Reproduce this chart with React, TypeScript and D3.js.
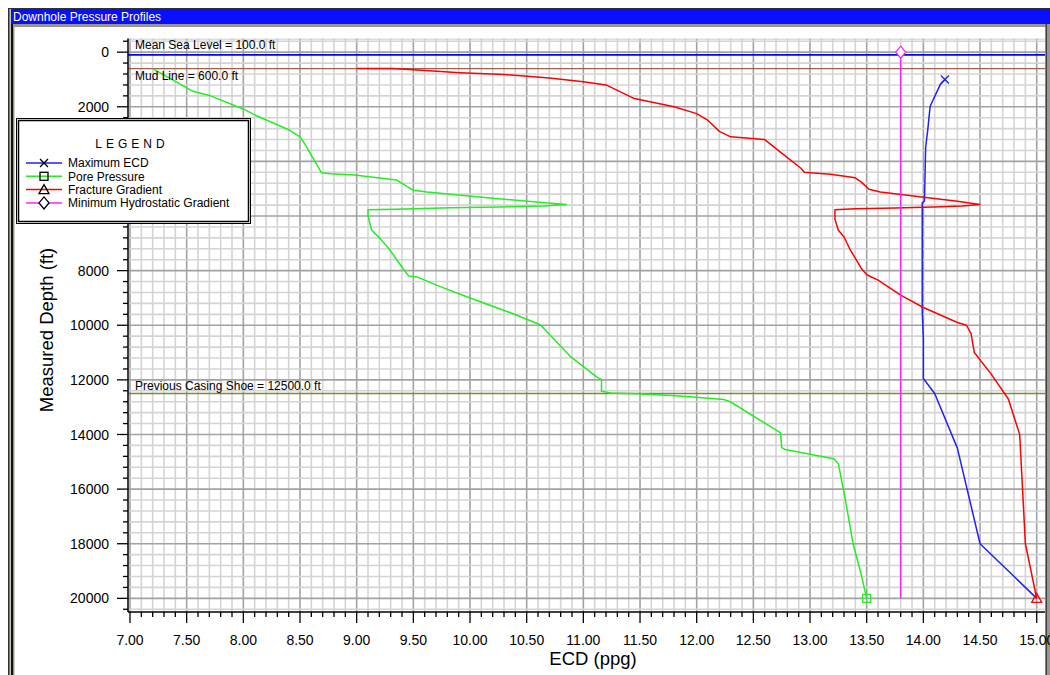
import React from "react";
import * as d3 from "d3";

// ---------- DATA ----------
const chartTitle = "Downhole Pressure Profiles";
const xTickValues = [7, 7.5, 8, 8.5, 9, 9.5, 10, 10.5, 11, 11.5, 12, 12.5, 13, 13.5, 14, 14.5, 15];
const yTickValues = [0, 2000, 4000, 6000, 8000, 10000, 12000, 14000, 16000, 18000, 20000];

// [ECD ppg, measured depth ft]
const maximumEcd: [number, number][] = [
  [14.19, 1000], [14.15, 1180], [14.06, 1980], [14.05, 2380], [14.04, 2800], [14.02, 3500],
  [14.01, 5450], [13.99, 5520], [13.99, 9500], [14.0, 10500], [14.0, 11950], [14.1, 12500],
  [14.3, 14500], [14.5, 18000], [15.0, 20000],
];
const porePressure: [number, number][] = [
  [7.2, 600], [7.54, 1400], [7.57, 1450], [7.71, 1600], [8.0, 2080], [8.09, 2280], [8.41, 2860],
  [8.5, 3100], [8.53, 3280], [8.69, 4420], [8.77, 4450], [8.98, 4500], [9.35, 4680], [9.5, 5060],
  [9.62, 5120], [10.2, 5350], [10.56, 5480], [10.85, 5580], [10.65, 5630], [10.27, 5670],
  [9.83, 5700], [9.34, 5750], [9.1, 5770], [9.1, 5980], [9.13, 6500], [9.2, 6800], [9.28, 7170],
  [9.41, 7930], [9.46, 8200], [9.53, 8230], [9.71, 8540], [10.0, 9000], [10.38, 9580],
  [10.62, 9980], [10.89, 11160], [11.12, 11900], [11.16, 11980], [11.16, 12420], [11.24, 12480],
  [11.46, 12510], [11.77, 12570], [11.97, 12630], [12.24, 12720], [12.3, 12810], [12.74, 13940],
  [12.75, 14480], [12.78, 14550], [13.21, 14890], [13.25, 15070], [13.31, 16350], [13.38, 18000],
  [13.45, 19100], [13.5, 20000],
];
const fractureGradient: [number, number][] = [
  [9.0, 600], [9.32, 600], [9.53, 650], [9.71, 700], [9.91, 750], [10.3, 820], [10.7, 950],
  [11.0, 1080], [11.2, 1200], [11.35, 1500], [11.45, 1700], [11.8, 2000], [12.0, 2250],
  [12.1, 2500], [12.2, 2900], [12.3, 3100], [12.6, 3200], [12.75, 3700], [12.92, 4250],
  [12.95, 4400], [13.18, 4470], [13.4, 4600], [13.45, 4750], [13.52, 5020], [13.62, 5120],
  [14.06, 5340], [14.3, 5460], [14.5, 5580], [14.34, 5630], [14.09, 5670], [13.75, 5710],
  [13.4, 5730], [13.22, 5770], [13.22, 6120], [13.25, 6520], [13.3, 6770], [13.35, 7200],
  [13.45, 7900], [13.5, 8150], [13.6, 8350], [13.8, 8900], [14.0, 9350], [14.3, 9900],
  [14.38, 10000], [14.42, 10300], [14.45, 11000], [14.6, 11800], [14.75, 12700], [14.85, 14000],
  [14.9, 18000], [15.0, 20000],
];
const minimumHydrostatic: [number, number][] = [[13.8, 0], [13.8, 20000]];

const referenceDepths = [100, 600, 12500];
const referenceLabels = ["Mean Sea Level = 100.0 ft", "Mud Line = 600.0 ft", "Previous Casing Shoe = 12500.0 ft"];
const referenceColors = ["#0000ff", "#a0604a", "#7a8a3a"];

const legendNames = ["Maximum ECD", "Pore Pressure", "Fracture Gradient", "Minimum Hydrostatic Gradient"];
const legendColors = ["#2020ff", "#22ee22", "#ff0000", "#ff22ff"];
const legendMarkers = ["x", "square", "triangle", "diamond"];

// ---------- LAYOUT ----------
const W = 1050;
const H = 675;
const plotLeft = 128;
const plotRight = 1045;
const plotTop = 38.5;
const plotBottom = 612;
const FONT = "'Liberation Sans', Arial, sans-serif";

const x = d3.scaleLinear().domain([7, 15]).range([130, 1036.7]);
const y = d3.scaleLinear().domain([-500, 20500]).range([plotTop, plotBottom]);

function Marker({ type, cx, cy, color }: { type: string; cx: number; cy: number; color: string }) {
  if (type === "x") {
    return (
      <g stroke={color} strokeWidth={1.3}>
        <line x1={cx - 4} y1={cy - 4} x2={cx + 4} y2={cy + 4} />
        <line x1={cx - 4} y1={cy + 4} x2={cx + 4} y2={cy - 4} />
      </g>
    );
  }
  if (type === "square") {
    return <rect x={cx - 4} y={cy - 4} width={8} height={8} fill="none" stroke={color} strokeWidth={1.3} />;
  }
  if (type === "triangle") {
    return (
      <path d={`M${cx},${cy - 5} L${cx + 5},${cy + 4} L${cx - 5},${cy + 4} Z`} fill="none" stroke={color} strokeWidth={1.3} />
    );
  }
  return (
    <path d={`M${cx},${cy - 6} L${cx + 5},${cy} L${cx},${cy + 6} L${cx - 5},${cy} Z`} fill="#fff" stroke={color} strokeWidth={1.3} />
  );
}

export default function App() {
  const line = d3
    .line<[number, number]>()
    .x((d) => x(d[0]))
    .y((d) => y(d[1]));

  const minorX = d3.range(0, 81).map((i) => 7 + i * 0.1);
  const minorY = d3.range(-1, 52).map((i) => i * 400);

  const series = [maximumEcd, porePressure, fractureGradient, minimumHydrostatic];
  const markerAt = [maximumEcd[0], porePressure[porePressure.length - 1], fractureGradient[fractureGradient.length - 1], minimumHydrostatic[0]];

  return (
    <svg width={W} height={H} style={{ position: "absolute", left: 0, top: 0, display: "block" }} fontFamily={FONT}>
      <rect x={0} y={0} width={W} height={H} fill="#fff" />
      {/* window frame */}
      <rect x={8} y={8} width={W - 8} height={H - 8} fill="#303030" />
      <rect x={9.5} y={9} width={W - 9.5} height={H - 9} fill="#c8c4bc" />
      <rect x={11} y={9} width={W - 11} height={H - 9} fill="#101010" />
      <rect x={13} y={24} width={W - 13} height={H - 24} fill="#9a968e" />
      <rect x={14.5} y={27} width={1031} height={H - 27} fill="#fff" />
      <rect x={1045.5} y={24} width={1.5} height={H - 24} fill="#404040" />
      <rect x={11} y={9} width={W - 11} height={15} fill="#0a10ff" />
      <text x={13} y={21} fill="#fff" fontSize={12}>
        {chartTitle}
      </text>

      <defs>
        <clipPath id="plotClip">
          <rect x={plotLeft} y={plotTop} width={plotRight - plotLeft} height={plotBottom - plotTop} />
        </clipPath>
      </defs>

      {/* grid */}
      <g clipPath="url(#plotClip)">
        {minorX.map((v, i) => (
          <line key={"mx" + i} x1={x(v)} x2={x(v)} y1={plotTop} y2={plotBottom} stroke={i % 5 === 0 ? "#a2a2a2" : "#d4d4d4"} strokeWidth={1.6} />
        ))}
        {minorY.map((v, i) => (
          <line key={"my" + i} x1={plotLeft} x2={plotRight} y1={y(v)} y2={y(v)} stroke={v % 2000 === 0 ? "#a2a2a2" : "#d4d4d4"} strokeWidth={1.6} />
        ))}
        <line x1={plotLeft} x2={plotRight} y1={plotTop + 0.5} y2={plotTop + 0.5} stroke="#bbb" strokeWidth={1} />

        {/* reference lines */}
        {referenceDepths.map((d, i) => (
          <line key={"ref" + i} x1={plotLeft} x2={plotRight} y1={y(d)} y2={y(d)} stroke={referenceColors[i]} strokeWidth={i === 0 ? 1.8 : 1.3} />
        ))}

        {/* series */}
        {series.map((s, i) => (
          <path key={"s" + i} d={line(s) || ""} fill="none" stroke={legendColors[i]} strokeWidth={1.5} strokeLinejoin="round" />
        ))}
        {markerAt.map((p, i) => (
          <Marker key={"m" + i} type={legendMarkers[i]} cx={x(p[0])} cy={y(p[1])} color={legendColors[i]} />
        ))}
      </g>

      {/* reference labels */}
      <text x={135} y={48.5} fontSize={12} fill="#000">{referenceLabels[0]}</text>
      <text x={135} y={79.5} fontSize={12} fill="#000">{referenceLabels[1]}</text>
      <text x={135} y={389.5} fontSize={12} fill="#000">{referenceLabels[2]}</text>

      {/* axes */}
      <line x1={plotLeft} x2={plotLeft} y1={plotTop} y2={plotBottom} stroke="#000" strokeWidth={1.5} />
      <line x1={plotLeft} x2={plotRight} y1={plotBottom} y2={plotBottom} stroke="#000" strokeWidth={1.5} />
      {minorY.filter((v) => v <= 20400).map((v, i) => (
        <line key={"yt" + i} x1={v % 2000 === 0 ? 117 : 123} x2={plotLeft} y1={y(v)} y2={y(v)} stroke="#000" strokeWidth={1.3} />
      ))}
      {minorX.map((v, i) => (
        <line key={"xt" + i} x1={x(v)} x2={x(v)} y1={plotBottom} y2={plotBottom + (i % 5 === 0 ? 11 : 5)} stroke="#000" strokeWidth={1.3} />
      ))}
      {yTickValues.map((v) => (
        <text key={"yl" + v} x={109} y={y(v)} dy="0.36em" textAnchor="end" fontSize={14} fill="#000">
          {v}
        </text>
      ))}
      {xTickValues.map((v) => (
        <text key={"xl" + v} x={x(v)} y={645} textAnchor="middle" fontSize={14} fill="#000">
          {d3.format(".2f")(v)}
        </text>
      ))}
      <text x={593} y={665} textAnchor="middle" fontSize={18.5} fill="#000">
        ECD (ppg)
      </text>
      <text transform="translate(53,330) rotate(-90)" textAnchor="middle" fontSize={18.5} fill="#000">
        Measured Depth (ft)
      </text>

      {/* legend */}
      <rect x={16.5} y={118.5} width={234} height={105} fill="#fff" stroke="#000" strokeWidth={1} />
      <rect x={18.5} y={120.5} width={230} height={101} fill="none" stroke="#000" strokeWidth={1.5} />
      <text x={132} y={148} textAnchor="middle" fontSize={12} letterSpacing={4} fill="#000">
        LEGEND
      </text>
      {legendNames.map((name, i) => {
        const ry = 163 + i * 13.3;
        return (
          <g key={"lg" + i}>
            <line x1={26} x2={62} y1={ry} y2={ry} stroke={legendColors[i]} strokeWidth={1.5} />
            <Marker type={legendMarkers[i]} cx={44} cy={ry} color="#000" />
            <text x={68} y={ry + 4.3} fontSize={12} fill="#000">
              {name}
            </text>
          </g>
        );
      })}
    </svg>
  );
}
